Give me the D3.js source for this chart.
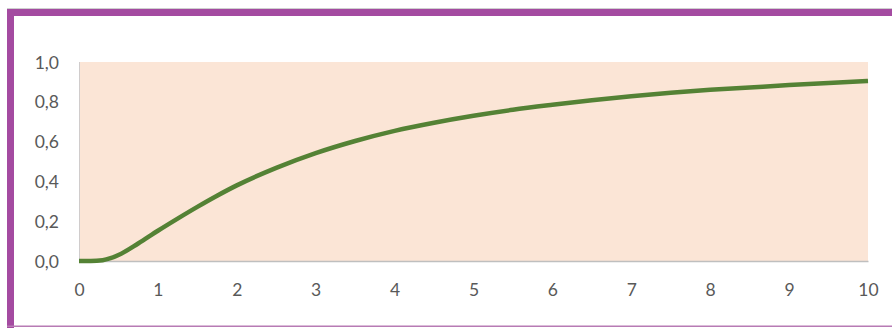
<!DOCTYPE html>
<html>
<head>
<meta charset="utf-8">
<script src="https://cdn.jsdelivr.net/npm/d3@7/dist/d3.min.js"></script>
<style>
  html, body { margin: 0; padding: 0; background: #ffffff; }
  svg { display: block; }
</style>
</head>
<body>
<svg id="chart" width="892" height="328"></svg>
<script>
// Data
const xValues = [0, 0.15, 0.3, 0.4, 0.5, 0.75, 1, 1.25, 1.5, 1.75, 2, 2.5, 3, 3.5, 4, 4.5, 5, 5.5, 6, 6.5, 7, 7.5, 8, 8.5, 9, 9.5, 10];
const yValues = [0, 0, 0.004, 0.014, 0.03, 0.088, 0.152, 0.213, 0.272, 0.328, 0.38, 0.468, 0.542, 0.603, 0.654, 0.695, 0.73, 0.76, 0.785, 0.808, 0.828, 0.845, 0.86, 0.872, 0.884, 0.895, 0.905];
const xTicks = [0, 1, 2, 3, 4, 5, 6, 7, 8, 9, 10];
const yTicks = [0, 0.2, 0.4, 0.6, 0.8, 1.0];

const svg = d3.select("#chart");
const W = 892, H = 328;
const plot = { left: 79, right: 868, top: 62, bottom: 261 };

const x = d3.scaleLinear().domain([0, 10]).range([plot.left, plot.right]);
const y = d3.scaleLinear().domain([0, 1]).range([plot.bottom, plot.top]);

// Frame
svg.append("line").attr("x1", 7).attr("x2", W).attr("y1", 8.5).attr("y2", 8.5)
  .attr("stroke", "#cfcfcf").attr("stroke-width", 1);
svg.append("rect").attr("x", 7).attr("y", 9).attr("width", W - 7).attr("height", 7).attr("fill", "#a44ba1");
svg.append("rect").attr("x", 7).attr("y", 9).attr("width", 7).attr("height", H - 9).attr("fill", "#a44ba1");
svg.append("rect").attr("x", 7).attr("y", 325.5).attr("width", W - 7).attr("height", 1.5).attr("fill", "#b77bb4");

// Plot background
svg.append("rect")
  .attr("x", plot.left).attr("y", plot.top)
  .attr("width", plot.right - plot.left).attr("height", plot.bottom - plot.top)
  .attr("fill", "#fbe5d6");

// Left edge line
svg.append("line").attr("x1", plot.left + 0.5).attr("x2", plot.left + 0.5)
  .attr("y1", plot.top).attr("y2", plot.bottom)
  .attr("stroke", "#d0cccc").attr("stroke-width", 1);

const font = "Lato, 'Open Sans', sans-serif";

const xAxis = d3.axisBottom(x).tickValues(xTicks).tickSize(0).tickPadding(0)
  .tickFormat(d => d3.format("d")(d));
const gx = svg.append("g").attr("transform", `translate(0,${plot.bottom})`).call(xAxis);
gx.select(".domain").attr("stroke", "#bfbfbf").attr("stroke-width", 1.5);
gx.selectAll("text")
  .attr("y", 29).attr("dy", "0.35em")
  .attr("fill", "#595959")
  .style("font-family", font)
  .style("font-size", "17.5px");

const yAxis = d3.axisLeft(y).tickValues(yTicks).tickSize(0).tickPadding(0)
  .tickFormat(d => d3.format(".1f")(d).replace(".", ","));
const gy = svg.append("g").attr("transform", `translate(${plot.left},0)`).call(yAxis);
gy.select(".domain").remove();
gy.selectAll("text")
  .attr("x", -20).attr("dy", "0.35em")
  .attr("fill", "#595959")
  .style("font-family", font)
  .style("font-size", "17.5px");

// Curve
const data = xValues.map((v, i) => [v, yValues[i]]);
const line = d3.line().x(d => x(d[0])).y(d => y(d[1])).curve(d3.curveMonotoneX);
svg.append("path").datum(data)
  .attr("d", line)
  .attr("fill", "none")
  .attr("stroke", "#548235")
  .attr("stroke-width", 4.5)
  .attr("stroke-linecap", "butt")
  .attr("stroke-linejoin", "round");
</script>
</body>
</html>
